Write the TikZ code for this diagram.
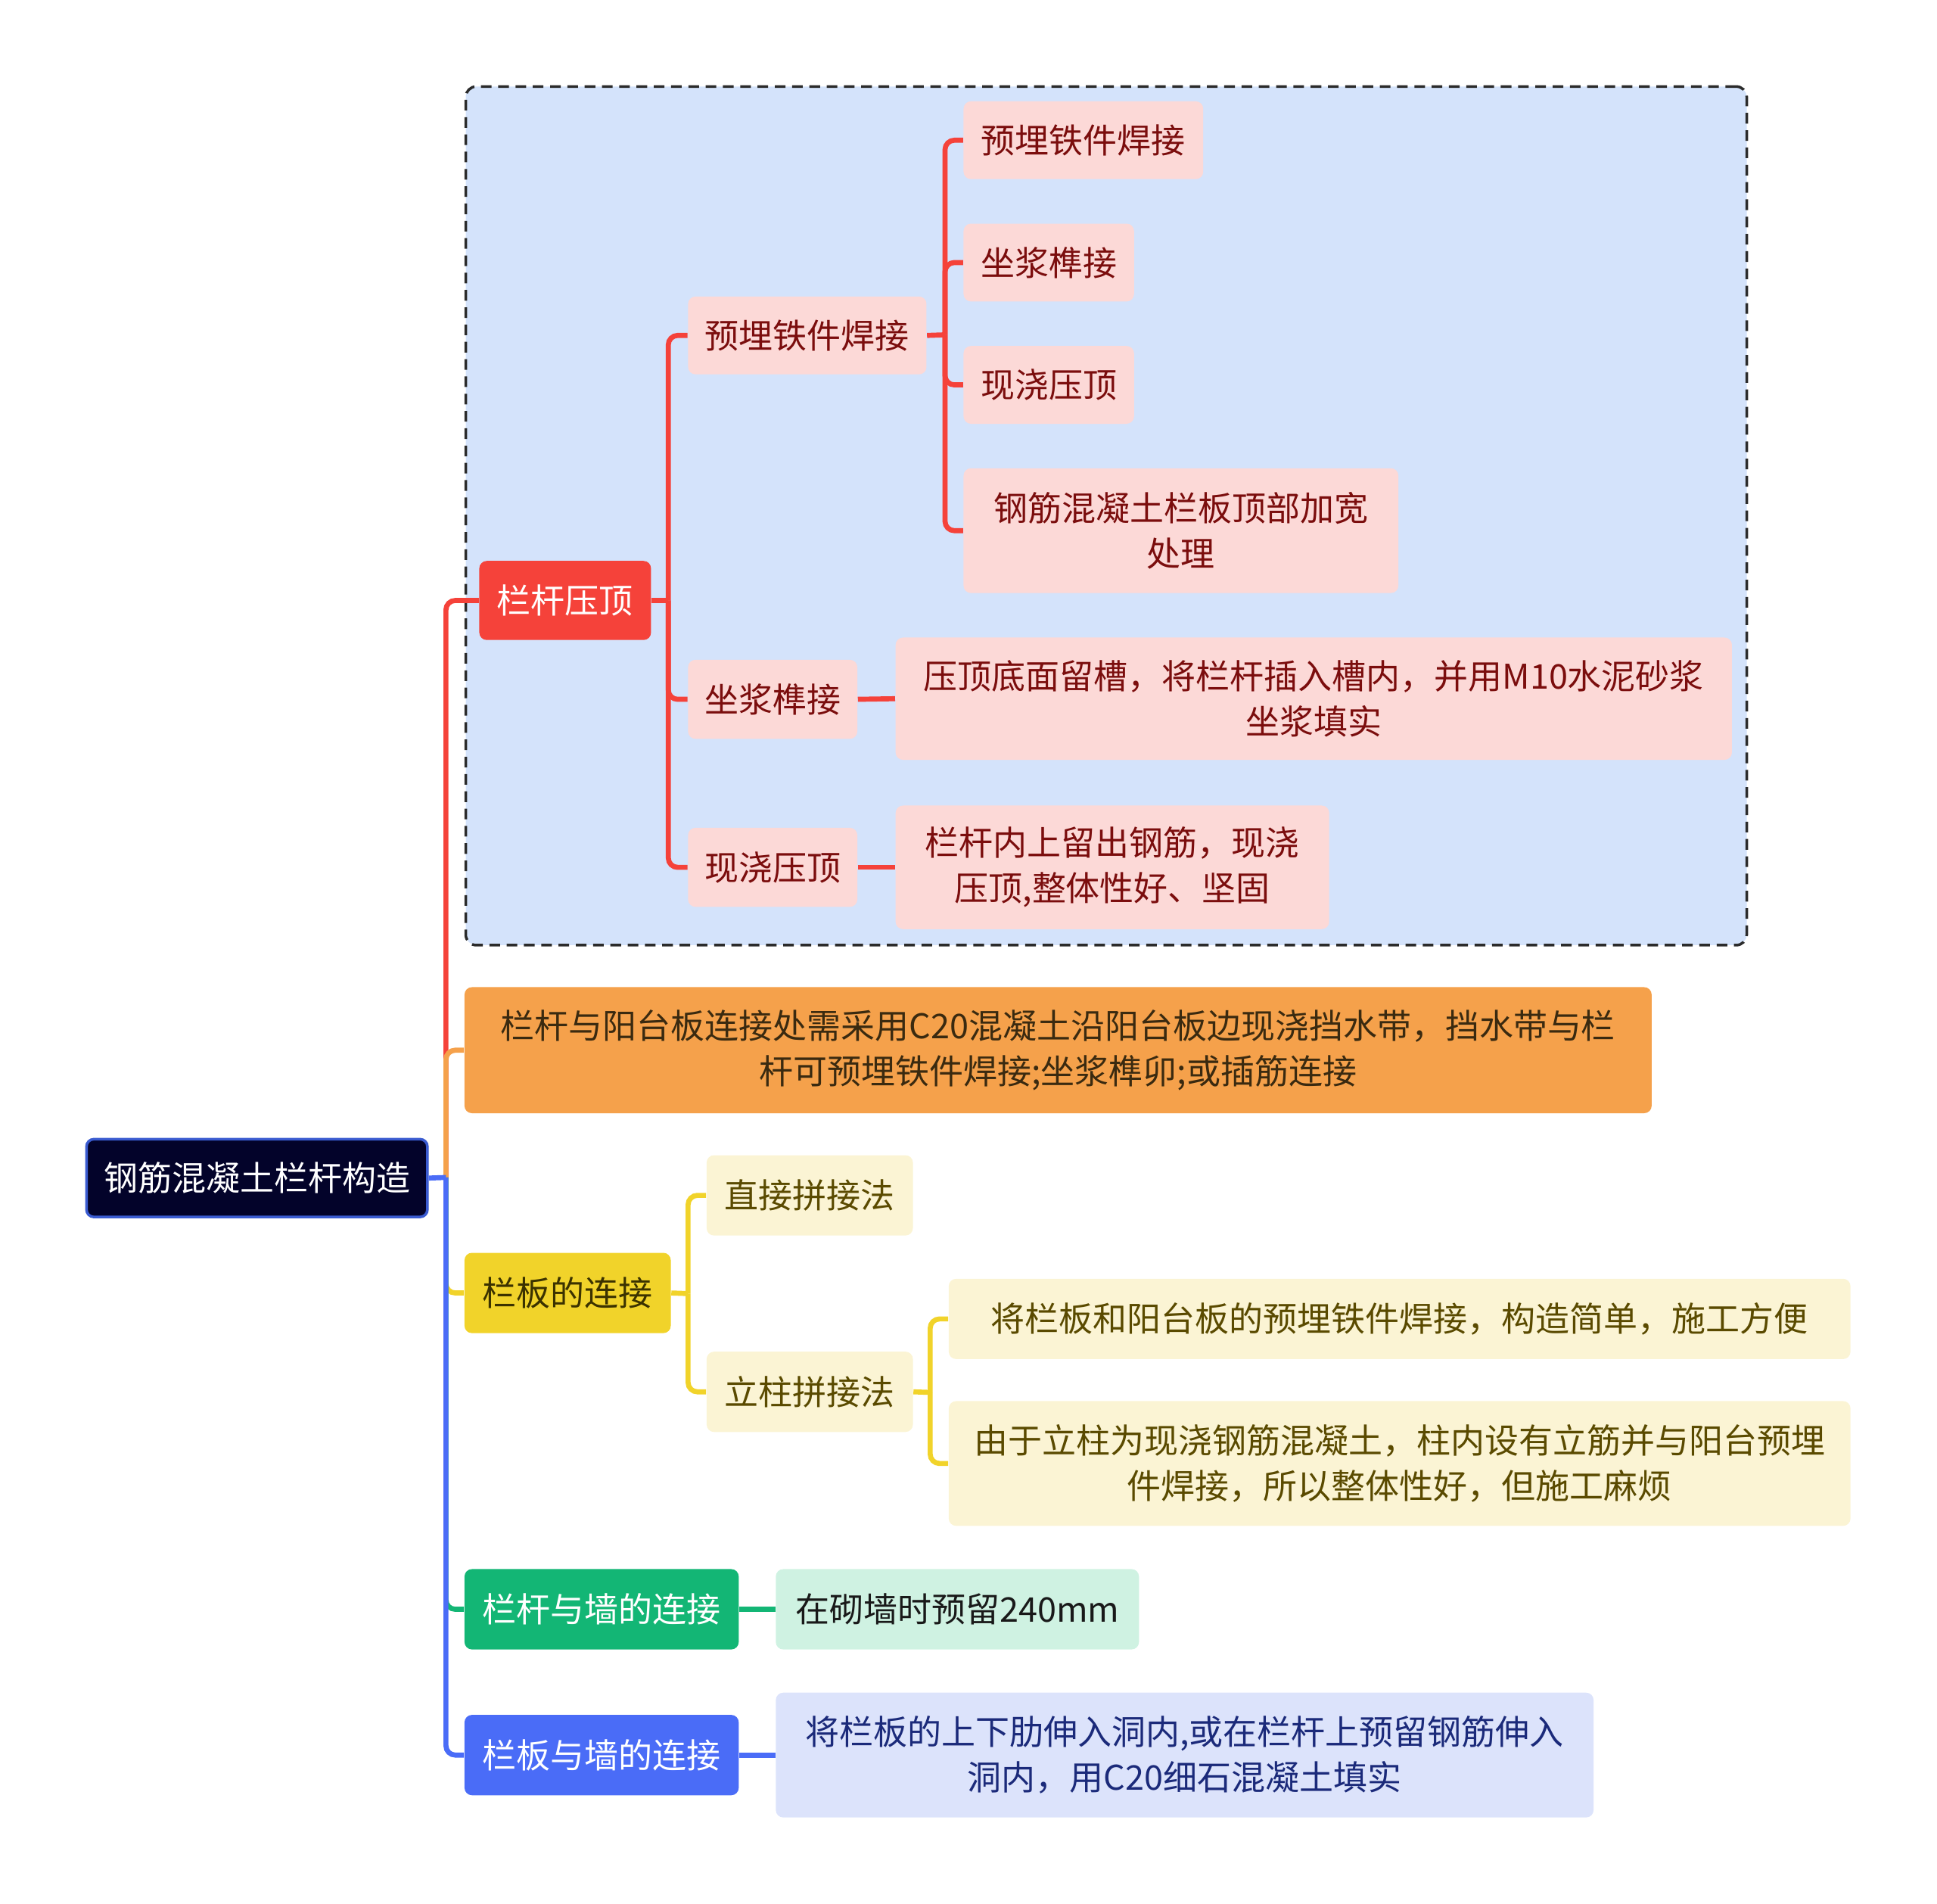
\documentclass[tikz,border=0pt]{standalone}
\usepackage{fontspec}
\setmainfont{Noto Sans CJK SC}
\definecolor{rootfill}{HTML}{03032A}
\definecolor{rootline}{HTML}{3A5BD0}
\definecolor{grpfill}{HTML}{D4E3FB}
\definecolor{grpline}{HTML}{2B2B2B}
\definecolor{redA}{HTML}{F5423A}
\definecolor{pinkB}{HTML}{FCD9D7}
\definecolor{pinkT}{HTML}{7B0D0D}
\definecolor{orangeA}{HTML}{F5A14B}
\definecolor{orangeT}{HTML}{3A2A10}
\definecolor{yellowA}{HTML}{F1D32A}
\definecolor{yellowT}{HTML}{3B3200}
\definecolor{yellowB}{HTML}{FBF4D4}
\definecolor{yellowBT}{HTML}{5A4A00}
\definecolor{greenA}{HTML}{13B675}
\definecolor{greenB}{HTML}{CFF2E2}
\definecolor{blueA}{HTML}{4A6CF7}
\definecolor{blueB}{HTML}{DCE3FB}
\definecolor{blueBT}{HTML}{1B2A7A}
\newcommand\bx[7]{\node[#6, minimum width={0.016327cm*(#4-#2)}, minimum height={0.016327cm*(#5-#3)}] (#1) at ({(#2+#4)/2},{(#3+#5)/2}) {#7};}
\begin{document}
\begin{tikzpicture}[x=0.016327cm, y=-0.016327cm,
  box/.style={rounded corners=2.8pt, inner sep=0pt, align=center, font=\fontsize{12.8pt}{17pt}\selectfont},
  rootbox/.style={box, fill=rootfill, draw=rootline, line width=1pt, text=white},
  grpbox/.style={rounded corners=4pt, fill=grpfill, draw=grpline, dash pattern=on 4pt off 2.5pt, line width=1pt, inner sep=0pt},
  redbox/.style={box, fill=redA, text=white},
  pinkbox/.style={box, fill=pinkB, text=pinkT},
  orangebox/.style={box, fill=orangeA, text=orangeT},
  yellowbox/.style={box, fill=yellowA, text=yellowT},
  lyellowbox/.style={box, fill=yellowB, text=yellowBT},
  greenbox/.style={box, fill=greenA, text=white},
  lgreenbox/.style={box, fill=greenB, text=black!90},
  bluebox/.style={box, fill=blueA, text=white},
  lbluebox/.style={box, fill=blueB, text=blueBT},
  conn/.style={line width=1.9pt, rounded corners=3.5pt},
  lred/.style={conn, draw=redA},
  lorange/.style={conn, draw=orangeA},
  lyellow/.style={conn, draw=yellowA},
  lgreen/.style={conn, draw=greenA},
  lblue/.style={conn, draw=blueA}]
\useasboundingbox (0,0) rectangle (1568,1541);
% group background
\bx{grp}{377}{70}{1414}{765}{grpbox}{}
% nodes
\bx{root}{70}{922}{346}{985}{rootbox}{钢筋混凝土栏杆构造}
\bx{lg}{388}{454}{527}{518}{redbox}{栏杆压顶}
\bx{ym}{557}{240}{750}{303}{pinkbox}{预埋铁件焊接}
\bx{ymA}{780}{82}{974}{145}{pinkbox}{预埋铁件焊接}
\bx{ymB}{780}{181}{918}{244}{pinkbox}{坐浆榫接}
\bx{ymC}{780}{280}{918}{343}{pinkbox}{现浇压顶}
\bx{ymD}{780}{379}{1132}{480}{pinkbox}{钢筋混凝土栏板顶部加宽\\处理}
\bx{zj}{557}{534}{694}{598}{pinkbox}{坐浆榫接}
\bx{zjA}{725}{516}{1402}{615}{pinkbox}{压顶底面留槽，将栏杆插入槽内，并用M10水泥砂浆\\坐浆填实}
\bx{xj}{557}{670}{694}{734}{pinkbox}{现浇压顶}
\bx{xjA}{725}{652}{1076}{752}{pinkbox}{栏杆内上留出钢筋，现浇\\压顶,整体性好、坚固}
\bx{or}{376}{799}{1337}{901}{orangebox}{栏杆与阳台板连接处需采用C20混凝土沿阳台板边现浇挡水带，挡水带与栏\\杆可预埋铁件焊接;坐浆榫卯;或插筋连接}
\bx{lb}{376}{1014}{543}{1079}{yellowbox}{栏板的连接}
\bx{zp}{572}{935}{739}{1000}{lyellowbox}{直接拼接法}
\bx{lz}{572}{1094}{739}{1159}{lyellowbox}{立柱拼接法}
\bx{lzA}{768}{1035}{1498}{1100}{lyellowbox}{将栏板和阳台板的预埋铁件焊接，构造简单，施工方便}
\bx{lzB}{768}{1134}{1498}{1235}{lyellowbox}{由于立柱为现浇钢筋混凝土，柱内设有立筋并与阳台预埋\\件焊接，所以整体性好，但施工麻烦}
\bx{gq}{376}{1270}{598}{1335}{greenbox}{栏杆与墙的连接}
\bx{gqA}{628}{1270}{922}{1335}{lgreenbox}{在砌墙时预留240mm}
\bx{bq}{376}{1388}{598}{1453}{bluebox}{栏板与墙的连接}
\bx{bqA}{628}{1370}{1290}{1471}{lbluebox}{将栏板的上下肋伸入洞内,或在栏杆上预留钢筋伸入\\洞内，用C20细石混凝土填实}
% junction coordinates
\coordinate (rj) at (361,953);
\coordinate (lgj) at (541,486);
\coordinate (ymj) at (765,271);
\coordinate (lbj) at (557,1047);
\coordinate (lzj) at (753,1127);
% root connectors
\draw[lred] (rj) |- (lg.west);
\draw[lorange] (rj) |- (or.west);
\draw[lyellow] (rj) |- (lb.west);
\draw[lgreen] (rj) |- (gq.west);
\draw[lblue] (rj) |- (bq.west);
\draw[lblue] (root.east) -- (rj);
% 栏杆压顶
\draw[lred] (lg.east) -- (lgj);
\draw[lred] (lgj) |- (ym.west);
\draw[lred] (lgj) |- (zj.west);
\draw[lred] (lgj) |- (xj.west);
\draw[lred] (ym.east) -- (ymj);
\draw[lred] (ymj) |- (ymA.west);
\draw[lred] (ymj) |- (ymB.west);
\draw[lred] (ymj) |- (ymC.west);
\draw[lred] (ymj) |- (ymD.west);
\draw[lred] (zj.east) -- (zjA.west);
\draw[lred] (xj.east) -- (xjA.west);
% 栏板的连接
\draw[lyellow] (lb.east) -- (lbj);
\draw[lyellow] (lbj) |- (zp.west);
\draw[lyellow] (lbj) |- (lz.west);
\draw[lyellow] (lz.east) -- (lzj);
\draw[lyellow] (lzj) |- (lzA.west);
\draw[lyellow] (lzj) |- (lzB.west);
% walls
\draw[lgreen] (gq.east) -- (gqA.west);
\draw[lblue] (bq.east) -- (bqA.west);
\end{tikzpicture}
\end{document}
